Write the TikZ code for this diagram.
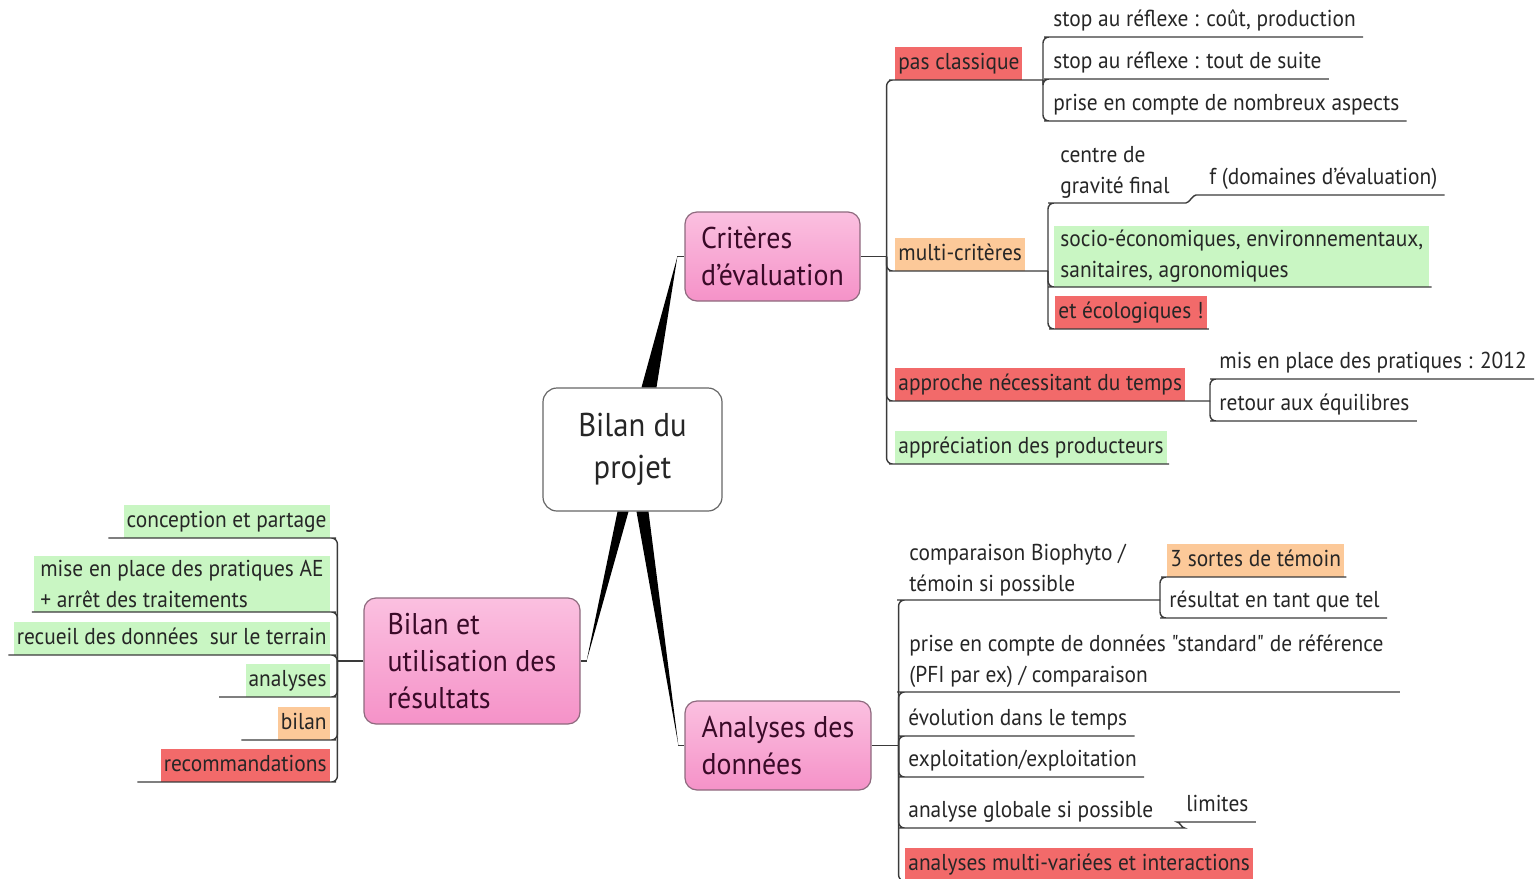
\documentclass[tikz,border=0pt]{standalone}
\usepackage{fontspec}
\setmainfont{PT Sans}[FakeStretch=0.93, Ligatures=TeXOff]
\usepackage{xcolor}
\usetikzlibrary{positioning}

\definecolor{pinktop}{HTML}{FBC0E0}
\definecolor{pinkbot}{HTML}{F592C8}
\definecolor{topicline}{HTML}{8E6A7E}
\definecolor{topictext}{HTML}{3A0A28}
\definecolor{leaftext}{HTML}{262626}
\definecolor{linegray}{HTML}{3A3A3A}
\definecolor{hlred}{HTML}{F26A6A}
\definecolor{hlorange}{HTML}{FCC999}
\definecolor{hlgreen}{HTML}{C9F6C3}

\tikzset{
  rootbox/.style={draw=gray!80!black, fill=white, rounded corners=7pt, line width=0.6pt,
    align=center, text=black!85, font=\fontsize{16.5}{21}\selectfont,
    minimum width=89.5pt, minimum height=61.5pt},
  topic/.style={draw=topicline, rounded corners=6pt, top color=pinktop, bottom color=pinkbot,
    line width=0.6pt, align=left, text=topictext, font=\fontsize{15}{18.5}\selectfont},
  leaf/.style={anchor=south west, inner xsep=1.5pt, inner ysep=2pt, text height=9.5pt,
    text depth=3pt, text=leaftext, font=\fontsize{11.5}{15.5}\selectfont},
  leaftwo/.style={anchor=south west, inner xsep=3pt, inner ysep=2pt, align=left,
    text=leaftext, font=\fontsize{11.5}{15.5}\selectfont},
  branch/.style={draw=linegray, line width=0.7pt, rounded corners=3pt},
  wedge/.style={fill=black},
}

\begin{document}
\begin{tikzpicture}[x=0.5pt,y=-0.5pt]
\useasboundingbox (0,0) rectangle (1539,879);

% main topics
\node[rootbox] (root) at (632.5,449.5) {Bilan du\\projet};
\node[topic, minimum width=87.5pt, minimum height=44.5pt] (crit) at (772.5,256.5) {Critères\\d’évaluation};
\node[topic, minimum width=108pt, minimum height=63pt] (bres) at (472,661) {Bilan et\\utilisation des\\résultats};
\node[topic, minimum width=93pt, minimum height=44.5pt] (anal) at (778,745.5) {Analyses des\\données};

% tapered links from the centre
\fill[wedge] ([xshift=4.5pt]root.north) -- ([xshift=-3.5pt]crit.west) -- ([xshift=12pt]root.north) -- cycle;
\draw[branch] ([xshift=-3.5pt]crit.west) -- (crit.west);
\fill[wedge] ([xshift=-7.5pt]root.south) -- ([xshift=3pt]bres.east) -- ([xshift=-2pt]root.south) -- cycle;
\draw[branch] ([xshift=3pt]bres.east) -- (bres.east);
\fill[wedge] ([xshift=2pt]root.south) -- ([xshift=-3pt]anal.west) -- ([xshift=8pt]root.south) -- cycle;
\draw[branch] ([xshift=-3pt]anal.west) -- (anal.west);

% Criteres d'evaluation
\coordinate (crit-b) at ([xshift=13pt]crit.east);
\draw[branch] (crit.east) -- (crit-b);
\node[leaf, fill=hlred] (pas) at (895,80) {pas classique};
\node[leaf, fill=hlorange] (multi) at (895,271) {multi-critères};
\node[leaf, fill=hlred] (appro) at (895,401) {approche nécessitant du temps};
\node[leaf, fill=hlgreen] (appre) at (895,464) {appréciation des producteurs};
\coordinate (pas-b) at (1043,80);
\coordinate (multi-b) at (1048,271);
\coordinate (appro-b) at (1210,401);
\draw[branch] (crit-b) |- (pas.south west) -- (pas-b);
\draw[branch] (crit-b) |- (multi.south west) -- (multi-b);
\draw[branch] (crit-b) |- (appro.south west) -- (appro-b);
\draw[branch] (crit-b) |- (appre.south west) -- ([xshift=1pt]appre.south east);

\node[leaf] (stop1) at (1050,37) {stop au réflexe : coût, production};
\node[leaf] (stop2) at (1050,79) {stop au réflexe : tout de suite};
\node[leaf] (nomb) at (1050,121) {prise en compte de nombreux aspects};
\draw[branch] (pas-b) |- (stop1.south west) -- ([xshift=2pt]stop1.south east);
\draw[branch] (pas-b) |- (stop2.south west) -- ([xshift=2pt]stop2.south east);
\draw[branch] (pas-b) |- (nomb.south west) -- ([xshift=2pt]nomb.south east);

\node[leaftwo] (grav) at (1054,203) {centre de\\gravité final};
\node[leaf] (dom) at (1206,195) {f (domaines d’évaluation)};
\node[leaftwo, fill=hlgreen] (socio) at (1054,287) {socio-économiques, environnementaux,\\sanitaires, agronomiques};
\node[leaf, fill=hlred] (ecolo) at (1055,329) {et écologiques !};
\draw[branch] (multi-b) |- (grav.south west) -- ([xshift=2pt]grav.south east)
  to[out=0,in=180] ([xshift=-2pt]dom.south west) -- ([xshift=2pt]dom.south east);
\draw[branch] (multi-b) |- (socio.south west) -- ([xshift=1pt]socio.south east);
\draw[branch] (multi-b) |- (ecolo.south west) -- ([xshift=1pt]ecolo.south east);

\node[leaf] (mis) at (1216,379) {mis en place des pratiques : 2012};
\node[leaf] (retour) at (1216,421) {retour aux équilibres};
\draw[branch] (appro-b) |- (mis.south west) -- ([xshift=2pt]mis.south east);
\draw[branch] (appro-b) |- (retour.south west) -- ([xshift=2pt]retour.south east);

% Bilan et utilisation des resultats
\coordinate (bres-b) at ([xshift=-13pt]bres.west);
\draw[branch] (bres.west) -- (bres-b);
\node[leaf, fill=hlgreen, anchor=south east] (conc) at (330,538) {conception et partage};
\node[leaftwo, fill=hlgreen, anchor=south east] (mise) at (330,612) {mise en place des pratiques AE\\+ arrêt des traitements};
\node[leaf, fill=hlgreen, anchor=south east] (recueil) at (330,655) {recueil des données\ \ sur le terrain};
\node[leaf, fill=hlgreen, anchor=south east] (anas) at (330,697) {analyses};
\node[leaf, fill=hlorange, anchor=south east] (bilan) at (330,740) {bilan};
\node[leaf, fill=hlred, anchor=south east] (recom) at (330,782) {recommandations};
\draw[branch] (bres-b) |- (conc.south east) -- ([xshift=-7.5pt]conc.south west);
\draw[branch] (bres-b) |- (mise.south east) -- ([xshift=-1pt]mise.south west);
\draw[branch] (bres-b) |- (recueil.south east) -- ([xshift=-2.5pt]recueil.south west);
\draw[branch] (bres-b) |- (anas.south east) -- ([xshift=-13pt]anas.south west);
\draw[branch] (bres-b) |- (bilan.south east) -- ([xshift=-18pt]bilan.south west);
\draw[branch] (bres-b) |- (recom.south east) -- ([xshift=-11.5pt]recom.south west);

% Analyses des donnees
\coordinate (anal-b) at ([xshift=13.5pt]anal.east);
\draw[branch] (anal.east) -- (anal-b);
\node[leaftwo] (compa) at (903,600) {comparaison Biophyto /\\témoin si possible};
\node[leaftwo] (stand) at (903,692) {prise en compte de données "standard" de référence\\(PFI par ex) / comparaison};
\node[leaf] (evol) at (905,736) {évolution dans le temps};
\node[leaf] (explo) at (905,777) {exploitation/exploitation};
\node[leaf] (globa) at (905,828) {analyse globale si possible};
\node[leaf, fill=hlred] (multiv) at (905,881) {analyses multi-variées et interactions};
\coordinate (compa-b) at (1160,600);
\draw[branch] (anal-b) |- (compa.south west) -- (compa-b);
\draw[branch] (anal-b) |- (stand.south west) -- ([xshift=5pt]stand.south east);
\draw[branch] (anal-b) |- (evol.south west) -- ([xshift=2pt]evol.south east);
\draw[branch] (anal-b) |- (explo.south west) -- ([xshift=2pt]explo.south east);
\node[leaf] (limit) at (1183,822) {limites};
\draw[branch] (anal-b) |- (globa.south west) -- ([xshift=11pt]globa.south east)
  to[out=0,in=180] (limit.south west) -- ([xshift=2pt]limit.south east);
\draw[branch] (anal-b) |- (multiv.south west) -- ([xshift=1pt]multiv.south east);

\node[leaf, fill=hlorange] (sortes) at (1167,577) {3 sortes de témoin};
\node[leaf] (tel) at (1166,618) {résultat en tant que tel};
\draw[branch] (compa-b) |- (sortes.south west) -- ([xshift=1pt]sortes.south east);
\draw[branch] (compa-b) |- (tel.south west) -- ([xshift=2pt]tel.south east);
\end{tikzpicture}
\end{document}
